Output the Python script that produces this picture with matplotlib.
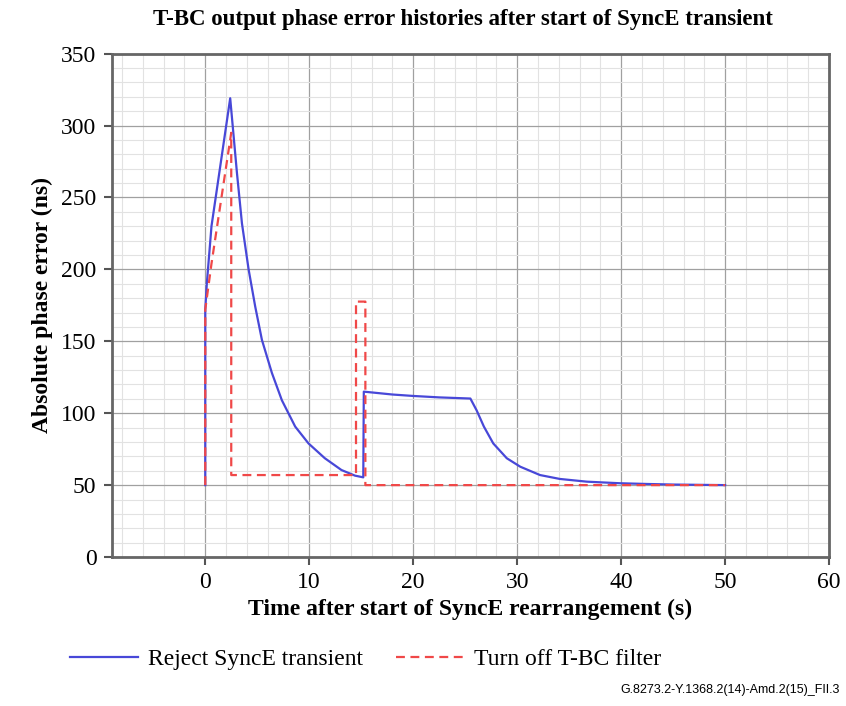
import matplotlib
matplotlib.use("Agg")
import matplotlib.pyplot as plt
from matplotlib.ticker import MultipleLocator

# Reject SyncE transient (solid blue)
reject_t = [0.0, 0.0, 0.15, 0.6, 2.4, 3.05, 3.53, 4.17, 4.81, 5.45, 6.41, 7.37, 8.65, 9.93,
            11.5, 13.1, 14.4, 15.2,
            15.25, 18.0, 20.0, 22.5, 25.5, 26.1, 26.8, 27.7, 29.0, 30.3, 32.2, 34.1, 36.7,
            39.9, 42.5, 45.0, 50.0]
reject_y = [50, 172, 190, 230, 319, 267, 232, 200, 174, 151, 128, 109, 90.7, 79,
            68.7, 60.5, 56.6, 55.4,
            115, 113, 112, 111, 110.2, 102, 90.7, 79, 68.7, 62.8, 57, 54.3, 52.4,
            51.3, 50.8, 50.4, 50]

# Turn off T-BC filter (dashed red)
turnoff_t = [0.0, 0.0, 0.6, 2.5, 2.5, 14.5, 14.5, 15.4, 15.4, 50.0]
turnoff_y = [50, 172, 204, 295, 57, 57, 177.6, 177.6, 50, 50]

serif = "Liberation Serif"

fig = plt.figure(figsize=(8.46, 7.06), dpi=100)
ax = fig.add_axes([0.132, 0.211, 0.848, 0.713])

ax.plot(reject_t, reject_y, color="#4848d8", lw=1.6, label="Reject SyncE transient", zorder=3)
ax.plot(turnoff_t, turnoff_y, color="#f04848", lw=1.6, ls=(0, (4, 2.5)),
        label="Turn off T-BC filter", zorder=4)

ax.set_xlim(-9, 60)
ax.set_ylim(0, 350)
ax.set_xticks(range(0, 61, 10))
ax.set_yticks(range(0, 351, 50))
ax.xaxis.set_minor_locator(MultipleLocator(2))
ax.yaxis.set_minor_locator(MultipleLocator(10))
ax.grid(which="major", color="#a0a0a0", lw=0.9)
ax.grid(which="minor", color="#e2e2e2", lw=0.8)
ax.set_axisbelow(True)
ax.tick_params(which="minor", length=0)
ax.tick_params(which="major", direction="out", length=6, width=1.5, color="#555555",
               labelsize=17, pad=5)
for lab in ax.get_xticklabels() + ax.get_yticklabels():
    lab.set_family(serif)
for s in ax.spines.values():
    s.set_color("#666666")
    s.set_linewidth(2)

ax.set_xlabel("Time after start of SyncE rearrangement (s)", family=serif,
              fontweight="bold", fontsize=17, labelpad=4)
ax.set_ylabel("Absolute phase error (ns)", family=serif, fontweight="bold",
              fontsize=17, labelpad=6)
fig.text(0.547, 0.973, "T-BC output phase error histories after start of SyncE transient",
         family=serif, fontweight="bold", fontsize=16.5, ha="center", va="center")

leg = fig.legend(loc="center", bbox_to_anchor=(0.432, 0.066), ncol=2, frameon=False,
                 prop={"family": serif, "size": 17}, handlelength=2.9, handletextpad=0.4,
                 columnspacing=1.4)

fig.text(0.993, 0.022, "G.8273.2-Y.1368.2(14)-Amd.2(15)_FII.3", family="Liberation Sans",
         fontsize=9, ha="right", va="center")

fig.savefig("out.png", dpi=100)
